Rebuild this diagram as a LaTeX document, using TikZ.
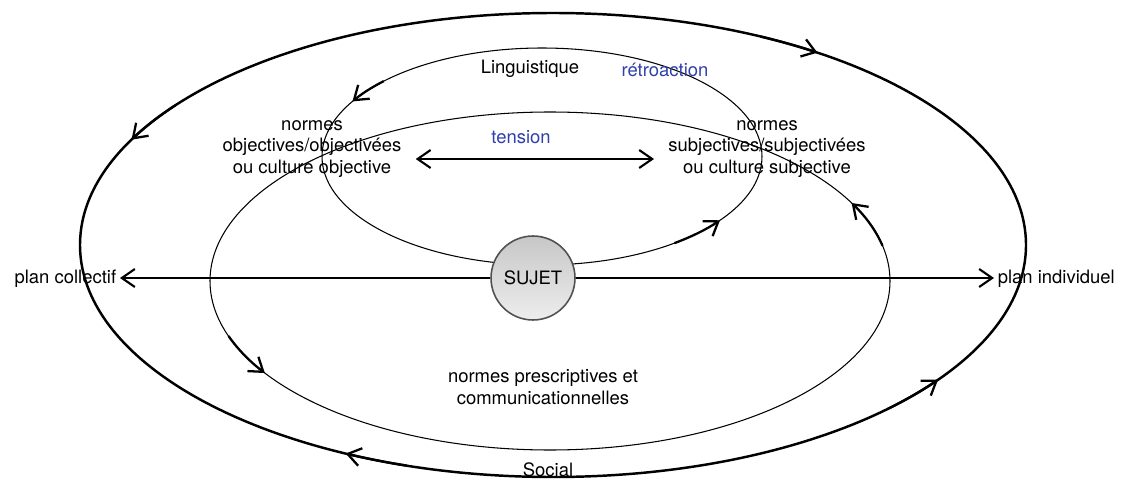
\documentclass[tikz,border=0pt]{standalone}
\usepackage{fontspec}
\setmainfont{TeX Gyre Heros}
\usetikzlibrary{arrows.meta, shapes.geometric}
\definecolor{retroblue}{RGB}{48,64,170}
\definecolor{rimgray}{RGB}{80,80,80}

\begin{document}
\begin{tikzpicture}[
    x=0.02cm, y=0.02cm,
    >={Straight Barb[length=2.6mm, width=3.6mm]},
    every node/.style={font=\fontsize{10.5}{12.2}\selectfont},
    txt/.style={align=center, inner sep=2pt},
    bluetxt/.style={txt, text=retroblue},
    thinloop/.style={line width=0.6pt},
    bigloop/.style={line width=1.4pt},
    looparrow/.style={->, line width=1.3pt},
    axisarrow/.style={->, line width=1.2pt},
    subject/.style={circle, draw=rimgray, line width=0.9pt, minimum size=1.68cm,
        top color=black!22, bottom color=black!7}
]
\useasboundingbox (0,0) rectangle (1126,481);

\coordinate (outerc) at (553,236);
\coordinate (lingc) at (542,324.5);
\coordinate (socc) at (550,200);

\draw[bigloop] (outerc) ellipse [x radius=473, y radius=232];
\draw[thinloop] (lingc) ellipse [x radius=220, y radius=108.5];
\draw[thinloop] (socc) ellipse [x radius=340, y radius=169];

\foreach \a/\b in {64/56, 143/153, 252/244, -45/-35.5}
    \draw[looparrow] ([shift={(\a:473 and 232)}]outerc) arc [start angle=\a, end angle=\b, x radius=473, y radius=232];
\foreach \a/\b in {136/149.5, -53/-36}
    \draw[looparrow] ([shift={(\a:220 and 108.5)}]lingc) arc [start angle=\a, end angle=\b, x radius=220, y radius=108.5];
\foreach \a/\b in {199/213, 12/27.5}
    \draw[looparrow] ([shift={(\a:340 and 169)}]socc) arc [start angle=\a, end angle=\b, x radius=340, y radius=169];

\node (sujet) [subject] at (533,203) {SUJET};
\node (coll) [txt, anchor=east] at (120,202) {plan collectif};
\node (indiv) [txt, anchor=west] at (994,202) {plan individuel};
\node (ling) [txt] at (530,412) {Linguistique};
\node (retro) [bluetxt] at (665,411) {rétroaction};
\node (tens) [bluetxt] at (521,344) {tension};
\node (objn) [txt] at (312,332) {normes\\objectives/objectivées\\ou culture objective};
\node (subjn) [txt] at (767,332) {normes\\subjectives/subjectivées\\ou culture subjective};
\node (presc) [txt] at (543,94) {normes prescriptives et\\communicationnelles};
\node (social) [txt] at (548,11) {Social};

\draw[axisarrow] (sujet) -- (sujet -| coll.east);
\draw[axisarrow] (sujet) -- (sujet -| indiv.west);
\draw[axisarrow, <->, shorten <=6, shorten >=6] ([yshift=-0.2cm]objn.east) -- ([yshift=-0.2cm]subjn.west);
\end{tikzpicture}
\end{document}
